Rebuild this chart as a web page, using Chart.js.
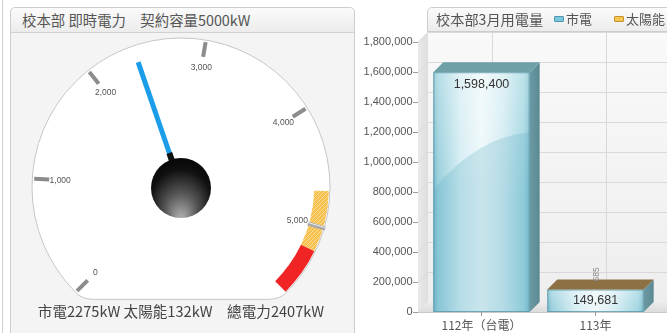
<!DOCTYPE html>
<html><head><meta charset="utf-8">
<script src="https://cdn.jsdelivr.net/npm/chart.js@4.4.1/dist/chart.umd.min.js"></script>
<style>
html,body{margin:0;padding:0;background:#fff;width:667px;height:333px;overflow:hidden;position:relative;font-family:"Noto Sans CJK TC","Noto Sans",sans-serif;}
#pageLine{position:absolute;left:2px;top:0;width:1px;height:333px;background:#cfcfcf;}
#leftPanel{position:absolute;left:10px;top:7px;width:345px;height:340px;border:1px solid #cdcdcd;border-radius:5px 5px 0 0;background:#f4f4f4;box-sizing:border-box;}
#leftTitle{position:absolute;left:0;top:0;right:0;height:25px;border-bottom:1px solid #d0d0d0;background:linear-gradient(#fbfbfb,#ececec);border-radius:5px 5px 0 0;box-sizing:border-box;}
#leftTitleText{position:absolute;left:22px;top:11px;font-size:14.4px;line-height:18px;color:#555;white-space:pre;}
#gauge{position:absolute;left:0;top:0;}
#gaugeText{position:absolute;left:0;width:362px;top:302px;text-align:center;font-size:14.6px;line-height:18px;color:#444;white-space:pre;}
#bars{position:absolute;left:360px;top:0;}
#rightTitle{position:absolute;left:427px;top:7px;width:260px;height:25px;border:1px solid #cdcdcd;border-radius:5px 0 0 0;background:linear-gradient(#fbfbfb,#ececec);box-sizing:border-box;}
#rightTitleText{position:absolute;left:436px;top:10px;font-size:14.2px;line-height:18px;color:#555;white-space:pre;}
.lg{position:absolute;top:10px;font-size:13px;line-height:17px;color:#555;white-space:pre;}
.sw{position:absolute;top:16px;width:10px;height:6px;border-radius:1px;box-sizing:border-box;}
</style></head>
<body>
<div id="pageLine"></div>
<div id="leftPanel"><div id="leftTitle"></div></div>
<div id="leftTitleText"></div>
<canvas id="gauge" width="360" height="333"></canvas>
<div id="gaugeText"></div>
<canvas id="bars" width="307" height="333"></canvas>
<div id="rightTitle"></div>
<div id="rightTitleText"></div>
<div class="sw" id="sw0" style="left:554px;background:#7cc6de;border:1px solid #4d97b0;"></div>
<div class="lg" id="lg0" style="left:566px;"></div>
<div class="sw" id="sw1" style="left:614px;background:#f7c553;border:1px solid #c8922a;"></div>
<div class="lg" id="lg1" style="left:626px;"></div>
<script>
// ---------------- data ----------------
const contractKW = 5000;
const gridKW = 2275;
const solarKW = 132;
const totalKW = 2407;
const gaugeMax = 5600;
const gaugeTickValues = [0, 1000, 2000, 3000, 4000, 5000];
const bandLimits = [4700, 5200, 5600];   // warning band start, alarm band start, end

const chartTitle = '校本部3月用電量';
const seriesNames = ['市電', '太陽能'];
const barCategories = ['112年（台電）', '113年'];
const gridUsage = [1598400, 149681];
const solarUsage = [0, 685];
const yAxisMax = 1800000;
const yAxisStep = 200000;

// ---------------- texts ----------------
document.getElementById('leftTitleText').textContent = '校本部 即時電力　契約容量' + contractKW + 'kW';
document.getElementById('gaugeText').textContent = '市電' + gridKW + 'kW 太陽能' + solarKW + 'kW　總電力' + totalKW + 'kW';
document.getElementById('rightTitleText').textContent = chartTitle;
document.getElementById('lg0').textContent = seriesNames[0];
document.getElementById('lg1').textContent = seriesNames[1];

const NUMFONT = '"Liberation Sans", Arial, sans-serif';
const CJKFONT = '"Noto Sans CJK TC", "Noto Sans", sans-serif';

// ---------------- gauge ----------------
function hatchPattern(ctx){
  const c = document.createElement('canvas'); c.width = 4; c.height = 4;
  const g = c.getContext('2d');
  g.fillStyle = '#f6c14e'; g.fillRect(0,0,4,4);
  g.strokeStyle = '#fbdc94'; g.lineWidth = 1;
  g.beginPath(); g.moveTo(0,4); g.lineTo(4,0); g.stroke();
  return ctx.createPattern(c, 'repeat');
}
const gctx = document.getElementById('gauge').getContext('2d');
const bandData = [bandLimits[0], bandLimits[1]-bandLimits[0], bandLimits[2]-bandLimits[1]];

const gaugePlugin = {
  id: 'gaugeDial',
  beforeDatasetsDraw(chart){
    const arcs = chart.getDatasetMeta(0).data;
    const cx = arcs[0].x, cy = arcs[0].y, R = arcs[0].outerRadius + 1;
    const a0 = arcs[0].startAngle, a1 = arcs[arcs.length-1].endAngle;
    const ctx = chart.ctx;
    ctx.save();
    const ex = cx + R*Math.cos(a1), ey = cy + R*Math.sin(a1);
    const sx = cx + R*Math.cos(a0);
    const bottom = ey + 7;
    ctx.beginPath();
    ctx.arc(cx, cy, R, a0, a1);
    ctx.quadraticCurveTo(ex - 6, bottom, ex - 18, bottom);
    ctx.lineTo(sx + 18, bottom);
    ctx.quadraticCurveTo(sx + 6, bottom, sx, ey);
    ctx.closePath();
    ctx.fillStyle = '#ffffff'; ctx.fill();
    ctx.strokeStyle = '#c6c6c6'; ctx.lineWidth = 1; ctx.stroke();
    ctx.restore();
  },
  afterDatasetsDraw(chart){
    const arcs = chart.getDatasetMeta(0).data;
    const cx = arcs[0].x, cy = arcs[0].y, R = arcs[0].outerRadius;
    const a0 = arcs[0].startAngle, a1 = arcs[arcs.length-1].endAngle;
    const ang = v => a0 + (a1 - a0) * v / gaugeMax;
    const ctx = chart.ctx;
    ctx.save();
    gaugeTickValues.forEach(v => {
      const a = ang(v), c = Math.cos(a), s = Math.sin(a);
      const special = v === contractKW;
      ctx.strokeStyle = special ? '#a9a9a9' : '#8c8c8c';
      ctx.lineWidth = 4;
      ctx.beginPath();
      ctx.moveTo(cx + (R - 16)*c, cy + (R - 16)*s);
      ctx.lineTo(cx + (special ? R + 2 : R - 1)*c, cy + (special ? R + 2 : R - 1)*s);
      ctx.stroke();
      if (special){
        ctx.strokeStyle = '#eeeeee'; ctx.lineWidth = 1;
        ctx.beginPath();
        ctx.moveTo(cx + (R - 16)*c, cy + (R - 16)*s - 1);
        ctx.lineTo(cx + (R + 2)*c, cy + (R + 2)*s - 1);
        ctx.stroke();
      }
      ctx.fillStyle = '#555';
      ctx.font = '8.5px ' + NUMFONT;
      ctx.textAlign = 'center'; ctx.textBaseline = 'middle';
      ctx.fillText(v.toLocaleString('en-US'), cx + (R - 27)*c, cy + (R - 27)*s);
    });
    const na = ang(totalKW), nc = Math.cos(na), ns = Math.sin(na);
    ctx.strokeStyle = '#1b9de9'; ctx.lineWidth = 5; ctx.lineCap = 'butt';
    ctx.beginPath();
    ctx.moveTo(cx + 20*nc, cy + 20*ns);
    ctx.lineTo(cx + (R - 16)*nc, cy + (R - 16)*ns);
    ctx.stroke();
    ctx.strokeStyle = '#111'; ctx.lineWidth = 6;
    ctx.beginPath();
    ctx.moveTo(cx + 20*nc, cy + 20*ns);
    ctx.lineTo(cx + 36*nc, cy + 36*ns);
    ctx.stroke();
    const br = 30, by = cy + 1;
    const g = ctx.createRadialGradient(cx, by + 30, 2, cx, by + 4, 42);
    g.addColorStop(0, '#a8a8a8');
    g.addColorStop(0.35, '#555555');
    g.addColorStop(0.7, '#111111');
    g.addColorStop(1, '#000000');
    ctx.fillStyle = g;
    ctx.beginPath(); ctx.arc(cx, by, br, 0, Math.PI*2); ctx.fill();
    ctx.restore();
  }
};

new Chart(gctx, {
  type: 'doughnut',
  data: { datasets: [{
    data: bandData,
    backgroundColor: ['rgba(0,0,0,0)', hatchPattern(gctx), '#f02424'],
    borderWidth: 0
  }]},
  options: {
    responsive: false, animation: false, events: [],
    rotation: -135, circumference: 270, cutout: '90%', radius: 148,
    layout: { padding: { left: 31, right: 29, top: 40, bottom: 42.4 } },
    plugins: { legend: { display: false }, tooltip: { enabled: false } }
  },
  plugins: [gaugePlugin]
});

// ---------------- 3D bar chart ----------------
const DX = 10, DY = 10, WALL_GAP = 6.5;
const bar3d = {
  id: 'bar3d',
  beforeDraw(chart){
    const {ctx, chartArea: ca} = chart;
    const W = chart.width;
    const wl = ca.left - WALL_GAP;
    const yS = chart.scales.y, xS = chart.scales.x;
    ctx.save();
    let g = ctx.createLinearGradient(0, ca.top - DY, 0, ca.bottom - DY);
    g.addColorStop(0, '#f9f9f9'); g.addColorStop(1, '#eeeeee');
    ctx.fillStyle = g;
    ctx.fillRect(wl + DX, ca.top - DY, W - wl - DX, ca.bottom - ca.top);
    g = ctx.createLinearGradient(wl, 0, wl + DX, 0);
    g.addColorStop(0, '#e9e9e9'); g.addColorStop(1, '#dedede');
    ctx.fillStyle = g;
    ctx.beginPath();
    ctx.moveTo(wl, ca.top); ctx.lineTo(wl + DX, ca.top - DY);
    ctx.lineTo(wl + DX, ca.bottom - DY); ctx.lineTo(wl, ca.bottom);
    ctx.closePath(); ctx.fill();
    ctx.strokeStyle = '#d9d9d9'; ctx.lineWidth = 1;
    yS.ticks.forEach(t => {
      const y = Math.round(yS.getPixelForValue(t.value)) + 0.5;
      ctx.beginPath();
      ctx.moveTo(wl, y); ctx.lineTo(wl + DX, y - DY); ctx.lineTo(W, y - DY);
      ctx.stroke();
    });
    xS.ticks.forEach((t, i) => {
      const x = Math.round(xS.getPixelForValue(i)) + DX + 0.5;
      ctx.beginPath(); ctx.moveTo(x, ca.top - DY); ctx.lineTo(x, ca.bottom - DY); ctx.stroke();
    });
    g = ctx.createLinearGradient(0, ca.bottom - DY, 0, ca.bottom);
    g.addColorStop(0, '#ececec'); g.addColorStop(1, '#dcdcdc');
    ctx.fillStyle = g;
    ctx.beginPath();
    ctx.moveTo(wl, ca.bottom); ctx.lineTo(wl + DX, ca.bottom - DY);
    ctx.lineTo(W, ca.bottom - DY); ctx.lineTo(W, ca.bottom);
    ctx.closePath(); ctx.fill();
    ctx.strokeStyle = '#c9c9c9';
    ctx.beginPath(); ctx.moveTo(wl, ca.bottom + 0.5); ctx.lineTo(W, ca.bottom + 0.5); ctx.stroke();
    ctx.strokeStyle = '#9a9a9a';
    yS.ticks.forEach(t => {
      const y = Math.round(yS.getPixelForValue(t.value)) + 0.5;
      ctx.beginPath(); ctx.moveTo(wl - 5, y); ctx.lineTo(wl, y); ctx.stroke();
    });
    ctx.restore();
  },
  afterDatasetsDraw(chart){
    const ctx = chart.ctx;
    const m0 = chart.getDatasetMeta(0).data, m1 = chart.getDatasetMeta(1).data;
    ctx.save();
    m0.forEach((el, i) => {
      const L = el.x - el.width/2, Rr = el.x + el.width/2, T = el.y, B = el.base, h = B - T, w = Rr - L;
      let g = ctx.createLinearGradient(L, 0, Rr, 0);
      g.addColorStop(0, '#74b6c7'); g.addColorStop(0.05, '#98cfdc');
      g.addColorStop(0.28, '#d4edf3'); g.addColorStop(0.5, '#eef8fa');
      g.addColorStop(0.72, '#d3ecf2'); g.addColorStop(0.94, '#a0d5e1');
      g.addColorStop(1, '#7cbccb');
      ctx.fillStyle = g; ctx.fillRect(L, T, w, h);
      g = ctx.createLinearGradient(0, T, 0, T + Math.min(h, 120));
      g.addColorStop(0, 'rgba(255,255,255,0.3)'); g.addColorStop(1, 'rgba(255,255,255,0)');
      ctx.fillStyle = g; ctx.fillRect(L, T, w, h);
      if (h > 80){
        ctx.fillStyle = 'rgba(90,170,195,0.25)';
        ctx.beginPath();
        ctx.moveTo(L, T + 0.49*h);
        ctx.quadraticCurveTo(L + 0.45*w, T + 0.27*h, Rr, T + 0.25*h);
        ctx.lineTo(Rr, B); ctx.lineTo(L, B); ctx.closePath(); ctx.fill();
      }
      ctx.strokeStyle = 'rgba(90,150,168,0.8)'; ctx.lineWidth = 1;
      ctx.strokeRect(L + 0.5, T + 0.5, w - 1, h - 1);
      const s = m1[i];
      const topY = Math.min(T, s.y);
      g = ctx.createLinearGradient(Rr, 0, Rr + DX, 0);
      g.addColorStop(0, '#6b9aa5'); g.addColorStop(1, '#5b8893');
      ctx.fillStyle = g;
      ctx.beginPath();
      ctx.moveTo(Rr, T); ctx.lineTo(Rr + DX, T - DY); ctx.lineTo(Rr + DX, B - DY); ctx.lineTo(Rr, B);
      ctx.closePath(); ctx.fill();
      if (s.base - s.y > 0.05){
        ctx.fillStyle = '#9c7a3e';
        ctx.beginPath();
        ctx.moveTo(Rr, s.y); ctx.lineTo(Rr + DX, s.y - DY); ctx.lineTo(Rr + DX, s.base - DY); ctx.lineTo(Rr, s.base);
        ctx.closePath(); ctx.fill();
      }
      const solarTop = solarUsage[i] > 0;
      ctx.fillStyle = solarTop ? '#8d7043' : '#6f9fa9';
      ctx.beginPath();
      ctx.moveTo(L, topY); ctx.lineTo(L + DX, topY - DY); ctx.lineTo(Rr + DX, topY - DY); ctx.lineTo(Rr, topY);
      ctx.closePath(); ctx.fill();
      ctx.fillStyle = '#333';
      ctx.font = '12.5px ' + NUMFONT;
      ctx.textAlign = 'center'; ctx.textBaseline = 'middle';
      ctx.fillText(gridUsage[i].toLocaleString('en-US'), el.x, Math.min(T + 12, (T + B)/2));
      if (solarTop){
        ctx.save();
        ctx.translate(el.x + 1.5, topY - 15);
        ctx.rotate(-Math.PI/2);
        ctx.fillStyle = '#8a8a8a';
        ctx.font = '8.5px ' + NUMFONT;
        ctx.fillText(solarUsage[i].toLocaleString('en-US'), 0, 0);
        ctx.restore();
      }
    });
    ctx.restore();
  }
};

new Chart(document.getElementById('bars'), {
  type: 'bar',
  data: {
    labels: barCategories,
    datasets: [
      { label: seriesNames[0], data: gridUsage, backgroundColor: '#bfe3eb', borderWidth: 0 },
      { label: seriesNames[1], data: solarUsage, backgroundColor: '#f6c350', borderWidth: 0 }
    ]
  },
  options: {
    responsive: false, animation: false, events: [],
    categoryPercentage: 1, barPercentage: 0.845,
    layout: { padding: { top: 42, right: 14.5, bottom: 0, left: 0 } },
    plugins: { legend: { display: false }, tooltip: { enabled: false } },
    scales: {
      x: {
        stacked: true,
        grid: { display: true, drawOnChartArea: false, drawTicks: true, tickLength: 4, offset: false, color: '#9a9a9a' },
        border: { display: false },
        ticks: { color: '#555', padding: 2, font: { size: 12, family: CJKFONT } },
        afterFit(s){ s.height = 21; }
      },
      y: {
        stacked: true, min: 0, max: yAxisMax,
        ticks: { stepSize: yAxisStep, padding: 12, color: '#555', font: { size: 11, family: NUMFONT } },
        grid: { display: false, drawTicks: false },
        border: { display: false },
        afterFit(s){ s.width = 64.5; }
      }
    }
  },
  plugins: [bar3d]
});
</script>
</body></html>
